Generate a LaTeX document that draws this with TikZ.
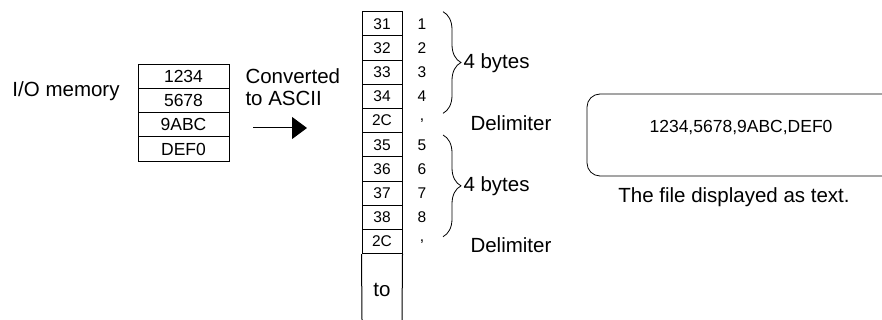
\documentclass[tikz,border=0pt]{standalone}
\usepackage{fontspec}
\setmainfont{Liberation Sans}
\usepackage{tikz}
\usetikzlibrary{arrows.meta,decorations.pathreplacing}
\newcommand{\bigtxt}{\fontsize{20.5}{22.3}\selectfont}
\newcommand{\celltxt}{\fontsize{15.5}{18}\selectfont}
\newcommand{\memtxt}{\fontsize{17.5}{20}\selectfont}

\begin{document}
\begin{tikzpicture}[x=1pt,y=-1pt,line width=1pt,
 memcell/.style={draw,minimum width=91pt,minimum height=24.1pt,inner sep=0pt,font=\memtxt},
 hexcell/.style={draw,minimum width=40pt,minimum height=24.2pt,inner sep=0pt,font=\celltxt},
 bytebrace/.style={decorate,decoration={brace,amplitude=18pt},line width=0.8pt},
 bigtext/.style={font=\bigtxt,inner sep=0pt}]
 \useasboundingbox (0,0) rectangle (882,320);
 % I/O memory words
 \node[bigtext,anchor=base west] (iomem) at (12,96.5) {I/O memory};
 \foreach \v [count=\i] in {1234,5678,9ABC,DEF0}
  \node[memcell] (m\i) at (183.5,{64.7+24.1*\i-12.05}) {\v};
 \node[bigtext,anchor=west,align=left] (conv) at (245,87) {Converted\\to ASCII};
 \coordinate (arrS) at (253,128);
 \coordinate (arrE) at (307,128);
 \draw[-{Triangle[length=15pt,width=22pt]}] (arrS) -- (arrE);
 % ASCII bytes
 \foreach \t/\d [count=\i] in {31/1,32/2,33/3,34/4,2C/{,},35/5,36/6,37/7,38/8,2C/{,}} {
  \node[hexcell] (h\i) at (382,{11.7+24.2*\i-12.1}) {\t};
  \node[font=\celltxt,inner sep=0pt] (d\i) at (422,{11.7+24.2*\i-12.1}) {\d};}
 \coordinate (colL) at (362,320);
 \coordinate (colR) at (402,320);
 \draw (h10.south west) -- (colL);
 \draw (h10.south east) -- (colR);
 \node[bigtext] (to) at (382,290) {to};
 \draw[bytebrace] (443,11.7) -- (443,113.3);
 \node[bigtext,anchor=west] (four1) at (463,63.3) {4 bytes};
 \node[bigtext,anchor=west] (delim1) at (470,123.3) {Delimiter};
 \draw[bytebrace] (443,135) -- (443,236.7);
 \node[bigtext,anchor=west] (four2) at (463,185.9) {4 bytes};
 \node[bigtext,anchor=west] (delim2) at (470,245) {Delimiter};
 % text file
 \draw[rounded corners=13pt,line width=0.8pt] (882,94) -- (587,94) -- (587,176) -- (882,176);
 \node[font=\memtxt] (ftext) at (741,128) {1234,5678,9ABC,DEF0};
 \node[bigtext] (fcap) at (734,197) {The file displayed as text.};
\end{tikzpicture}
\end{document}
